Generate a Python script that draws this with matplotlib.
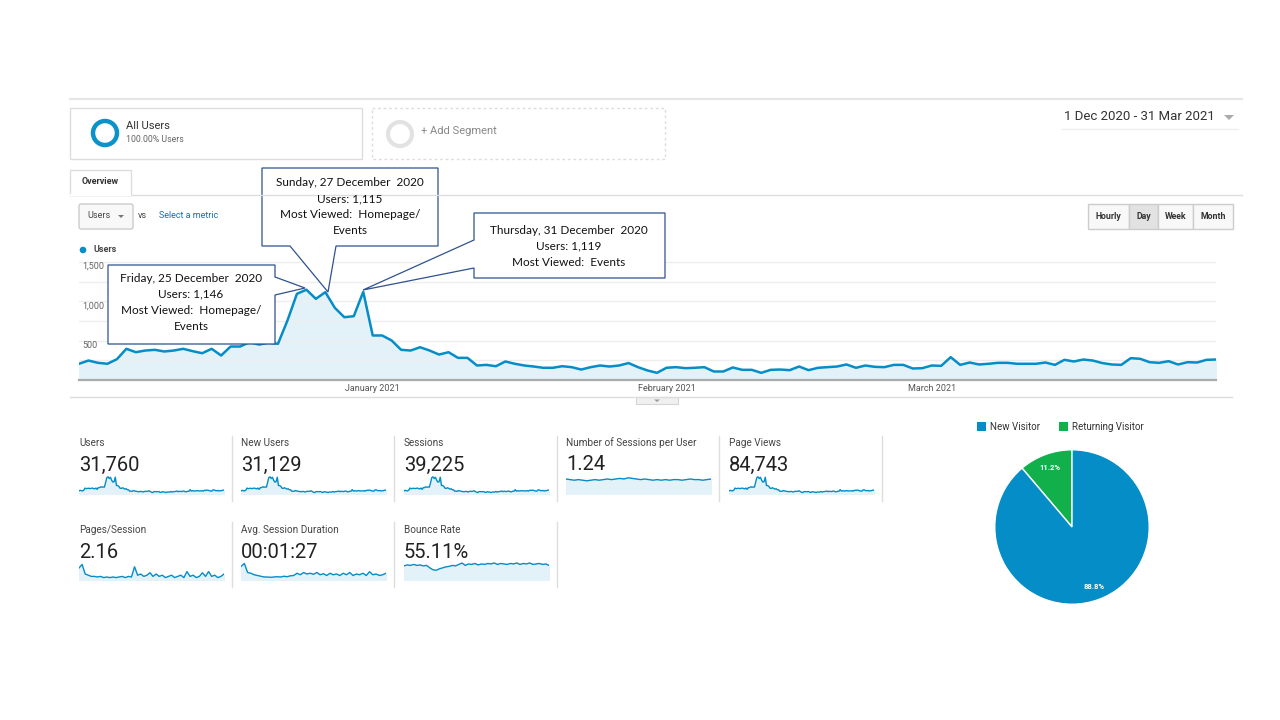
import matplotlib
matplotlib.use("Agg")
import matplotlib.pyplot as plt
from matplotlib.patches import Rectangle, Circle, Polygon, FancyBboxPatch
import numpy as np

W, H = 1280, 720
UI = 'Roboto'
NOTE = 'Lato'
BLUE = '#058DC7'
GREEN = '#12B04B'
EDGE = '#2F528F'

# ---- data ----
users = [206, 247, 218, 206, 264, 396, 353, 374, 383, 362,
         374, 396, 366, 340, 396, 311, 425, 425, 480, 450,
         472, 459, 755, 1094, 1146, 1030, 1115, 916, 797, 810,
         1119, 565, 565, 501, 383, 374, 416, 374, 323, 353,
         281, 281, 184, 192, 175, 235, 206, 184, 171, 155,
         155, 175, 163, 133, 163,
         184, 171, 184, 215, 163, 121, 91, 155, 163, 150,
         155, 163, 108, 108, 159, 129, 129, 91, 129, 133,
         125, 171, 125, 155, 163, 171, 197, 155, 184, 167,
         163, 192, 192, 146, 150, 184, 180, 290, 192, 222,
         197, 206, 218, 218, 206, 206, 206, 222, 192, 256,
         235, 260, 247, 215, 197, 192, 277, 269, 226, 218,
         239, 197, 226, 222, 256, 260]
month_days = [31, 62, 90]
month_labels = ['January 2021', 'February 2021', 'March 2021']
y_ticks = [500, 1000, 1500]

sessions_per_user = [1.25, 1.24, 1.23, 1.24, 1.23, 1.22, 1.23, 1.24, 1.23, 1.24, 1.25, 1.24,
                     1.25, 1.26, 1.25, 1.27, 1.26, 1.25, 1.24, 1.25, 1.24, 1.23, 1.24, 1.23,
                     1.24, 1.23, 1.24, 1.24, 1.23, 1.24, 1.25, 1.24, 1.24, 1.23, 1.24, 1.25]
pages_per_session = [2.9, 3.2, 2.4, 2.3, 2.2, 2.2, 2.15, 2.2, 2.1, 2.15, 2.1, 2.15, 2.1, 2.15,
                     2.2, 2.1, 2.2, 2.15, 3.0, 2.3, 2.4, 2.2, 2.3, 2.5, 2.2, 2.4, 2.2, 2.3,
                     2.1, 2.2, 2.3, 2.1, 2.2, 2.3, 2.1, 2.6, 2.2, 2.3, 2.1, 2.2, 2.5, 2.2,
                     2.6, 2.2, 2.3, 2.1, 2.2, 2.4]
avg_duration = [140, 160, 100, 95, 85, 80, 75, 70, 70, 68, 70, 72, 70, 75, 72, 78, 80, 95,
                85, 100, 90, 95, 88, 100, 85, 92, 80, 95, 85, 90, 80, 95, 85, 100, 80, 90,
                85, 95, 80, 105, 85, 90, 80, 85, 95]
bounce_rate = [54, 56, 55, 57, 55, 56, 54, 55, 50, 46, 45, 48, 50, 52, 53, 55, 54, 57, 60,
               55, 58, 57, 59, 56, 58, 57, 59, 58, 60, 57, 59, 58, 57, 59, 58, 60, 57, 59,
               58, 60, 57, 58, 59, 57, 58, 55]

tile_titles = ['Users', 'New Users', 'Sessions', 'Number of Sessions per User', 'Page Views',
               'Pages/Session', 'Avg. Session Duration', 'Bounce Rate']
tile_values = ['31,760', '31,129', '39,225', '1.24', '84,743', '2.16', '00:01:27', '55.11%']
tile_series = [users, users, users, sessions_per_user, users,
               pages_per_session, avg_duration, bounce_rate]
tile_ylims = [(0, 1200), (0, 1200), (0, 1200), (1.0, 1.3), (0, 1200),
              (1.9, 3.4), (50, 170), (25, 62)]

pie_labels = ['Returning Visitor', 'New Visitor']
pie_share = [11.2, 88.8]

callouts = [
    ('Friday, 25 December  2020', 'Users: 1,146', 'Most Viewed:  Homepage/', 'Events'),
    ('Sunday, 27 December  2020', 'Users: 1,115', 'Most Viewed:  Homepage/', 'Events'),
    ('Thursday, 31 December  2020', 'Users: 1,119', 'Most Viewed:  Events'),
]

fig = plt.figure(figsize=(12.8, 7.2), dpi=100)
fig.patch.set_facecolor('white')


def ax_px(x0, y0, x1, y1, **kw):
    return fig.add_axes([x0 / W, 1 - y1 / H, (x1 - x0) / W, (y1 - y0) / H], **kw)


# ---- main users chart ----
ax = ax_px(79, 250, 1216, 380)
days = np.arange(len(users))
ax.fill_between(days, users, 0, color='#E3F2F9', zorder=1)
ax.plot(days, users, color=BLUE, lw=1.8, zorder=3)
ax.set_xlim(0, len(users) - 1)
ax.set_ylim(0, 1650)
ax.set_yticks([250, 500, 750, 1000, 1250, 1500])
ax.yaxis.grid(True, color='#EEEEEE', lw=1, zorder=0)
ax.tick_params(axis='y', length=0, labelleft=False)
ax.set_xticks(month_days)
ax.set_xticklabels(month_labels, fontsize=6.5, color='#555555', family=UI)
ax.tick_params(axis='x', length=0, pad=3)
for s in ['top', 'left', 'right']:
    ax.spines[s].set_visible(False)
ax.spines['bottom'].set_color('#AAAAAA')
ax.spines['bottom'].set_linewidth(1.6)
for v in y_ticks:
    ax.text(0.003, v, f'{v:,}', transform=ax.get_yaxis_transform(), va='top', ha='left',
            fontsize=6.5, color='#666666', family=UI, zorder=4)

# ---- sparkline tiles ----
tile_x = [79, 241, 404, 566, 729, 79, 241, 404]
for i, (t, v, ser, yl) in enumerate(zip(tile_titles, tile_values, tile_series, tile_ylims)):
    x0 = tile_x[i]
    row = 0 if i < 5 else 1
    ty = 443 if row == 0 else 530
    sy = 476 if row == 0 else 562
    fig.text(x0 / W, 1 - ty / H, t, fontsize=7.2, color='#444444', family=UI, va='center')
    fig.text(x0 / W, 1 - (ty + 22) / H, v, fontsize=14.5, color='#222222', family=UI, va='center')
    sax = ax_px(x0, sy, x0 + 145, sy + 18)
    xs = np.arange(len(ser))
    sax.fill_between(xs, ser, yl[0], color='#E3F2F9')
    sax.plot(xs, ser, color=BLUE, lw=1.0)
    sax.set_xlim(0, len(ser) - 1)
    sax.set_ylim(*yl)
    sax.axis('off')

# ---- pie ----
pax = ax_px(994, 449, 1150, 605)
wedges, _, autot = pax.pie(pie_share, colors=[GREEN, BLUE], startangle=90, counterclock=True,
                           autopct='%.1f%%', pctdistance=0.82, radius=1.0,
                           wedgeprops=dict(edgecolor='white', linewidth=1.0),
                           textprops=dict(color='white', fontsize=5.5, family=UI, weight='bold'))
pax.set_xlim(-1.01, 1.01)
pax.set_ylim(-1.01, 1.01)
pax.set_aspect('equal')

# ---- overlay for UI chrome and callouts ----
ui = fig.add_axes([0, 0, 1, 1])
ui.set_xlim(0, W)
ui.set_ylim(H, 0)
ui.axis('off')
ui.patch.set_alpha(0)
ui.set_zorder(10)

ui.plot([70, 1242], [99, 99], color='#E6E6E6', lw=1.5)
ui.add_patch(Rectangle((70, 108), 292, 51, fc='white', ec='#DDDDDD', lw=1))
ui.add_patch(Rectangle((372, 108), 293, 51, fc='white', ec='#DDDDDD', lw=1, ls=(0, (2, 2))))
ui.add_patch(Circle((105, 133), 12, fc='none', ec='#0A93C9', lw=3.2))
ui.add_patch(Circle((400, 134), 12, fc='none', ec='#E2E2E2', lw=3.0))
ui.text(126, 126, 'All Users', fontsize=8, color='#333333', family=UI, va='center')
ui.text(126, 139, '100.00% Users', fontsize=6.3, color='#666666', family=UI, va='center')
ui.text(421, 131, '+ Add Segment', fontsize=8, color='#888888', family=UI, va='center')

ui.text(1064, 117, '1 Dec 2020 - 31 Mar 2021', fontsize=9.5, color='#333333', family=UI, va='center')
ui.add_patch(Polygon([(1224, 115), (1234, 115), (1229, 120)], fc='#AAAAAA', ec='none'))
ui.plot([1062, 1238], [129, 129], color='#EEEEEE', lw=1)

ui.plot([70, 1242], [195, 195], color='#DDDDDD', lw=1)
ui.add_patch(Rectangle((70, 170), 61, 25, fc='white', ec='#DDDDDD', lw=1))
ui.plot([71, 130], [195, 195], color='white', lw=1.5)
ui.text(100, 182, 'Overview', fontsize=6.5, color='#333333', family=UI, weight='bold',
        ha='center', va='center')

ui.add_patch(FancyBboxPatch((79, 204), 54, 25, boxstyle='round,pad=0,rounding_size=2',
                            fc='#F8F8F8', ec='#CCCCCC', lw=1))
ui.text(87, 216, 'Users', fontsize=6.5, color='#444444', family=UI, va='center')
ui.add_patch(Polygon([(118, 215), (124, 215), (121, 218)], fc='#777777', ec='none'))
ui.text(138, 215, 'vs', fontsize=6.5, color='#444444', family=UI, va='center')
ui.text(159, 216, 'Select a metric', fontsize=6.5, color='#1A6FB0', family=UI, va='center')

btns = [('Hourly', 1088, 1129), ('Day', 1129, 1158), ('Week', 1158, 1193), ('Month', 1193, 1233)]
for name, bx0, bx1 in btns:
    fc = '#E2E2E2' if name == 'Day' else '#F8F8F8'
    ui.add_patch(Rectangle((bx0, 204), bx1 - bx0, 25, fc=fc, ec='#CCCCCC', lw=1))
    ui.text((bx0 + bx1) / 2, 216.5, name, fontsize=6.3, color='#333333', family=UI,
            weight='bold', ha='center', va='center')

ui.add_patch(Circle((83, 250), 3.3, fc=BLUE, ec='none'))
ui.text(93, 250, 'Users', fontsize=6.5, color='#444444', family=UI, weight='bold', va='center')

ui.plot([70, 1232], [397, 397], color='#DDDDDD', lw=1)
ui.add_patch(Rectangle((636, 397), 42, 7, fc='#F0F0F0', ec='#D5D5D5', lw=0.8))
ui.add_patch(Polygon([(654, 399.5), (660, 399.5), (657, 402)], fc='#999999', ec='none'))

for dx in [232, 394, 557, 719, 882]:
    ui.plot([dx, dx], [436, 501], color='#DDDDDD', lw=1)
for dx in [232, 394, 557]:
    ui.plot([dx, dx], [522, 587], color='#DDDDDD', lw=1)

# pie legend
ui.add_patch(Rectangle((977, 422), 9, 9, fc=BLUE, ec='none'))
ui.text(990, 427, 'New Visitor', fontsize=7, color='#333333', family=UI, va='center')
ui.add_patch(Rectangle((1059, 422), 9, 9, fc=GREEN, ec='none'))
ui.text(1072, 427, 'Returning Visitor', fontsize=7, color='#333333', family=UI, va='center')

# callouts
shapes = [
    [(108, 265), (275, 265), (275, 277), (305, 288), (275, 295), (275, 344), (108, 344)],
    [(262, 168), (438, 168), (438, 246), (336, 246), (328, 292), (290, 246), (262, 246)],
    [(474, 213), (665, 213), (665, 278), (474, 278), (474, 268), (363, 290), (474, 240)],
]
text_pos = [(191, 278), (350, 183), (569, 230)]
for shp, lines, (cx, cy) in zip(shapes, callouts, text_pos):
    ui.add_patch(Polygon(shp, closed=True, fc='white', ec=EDGE, lw=0.9))
    for k, ln in enumerate(lines):
        ui.text(cx, cy + 16 * k, ln, fontsize=8.5, color='#111111', family=NOTE,
                ha='center', va='center')

fig.savefig('out.png', dpi=100)
